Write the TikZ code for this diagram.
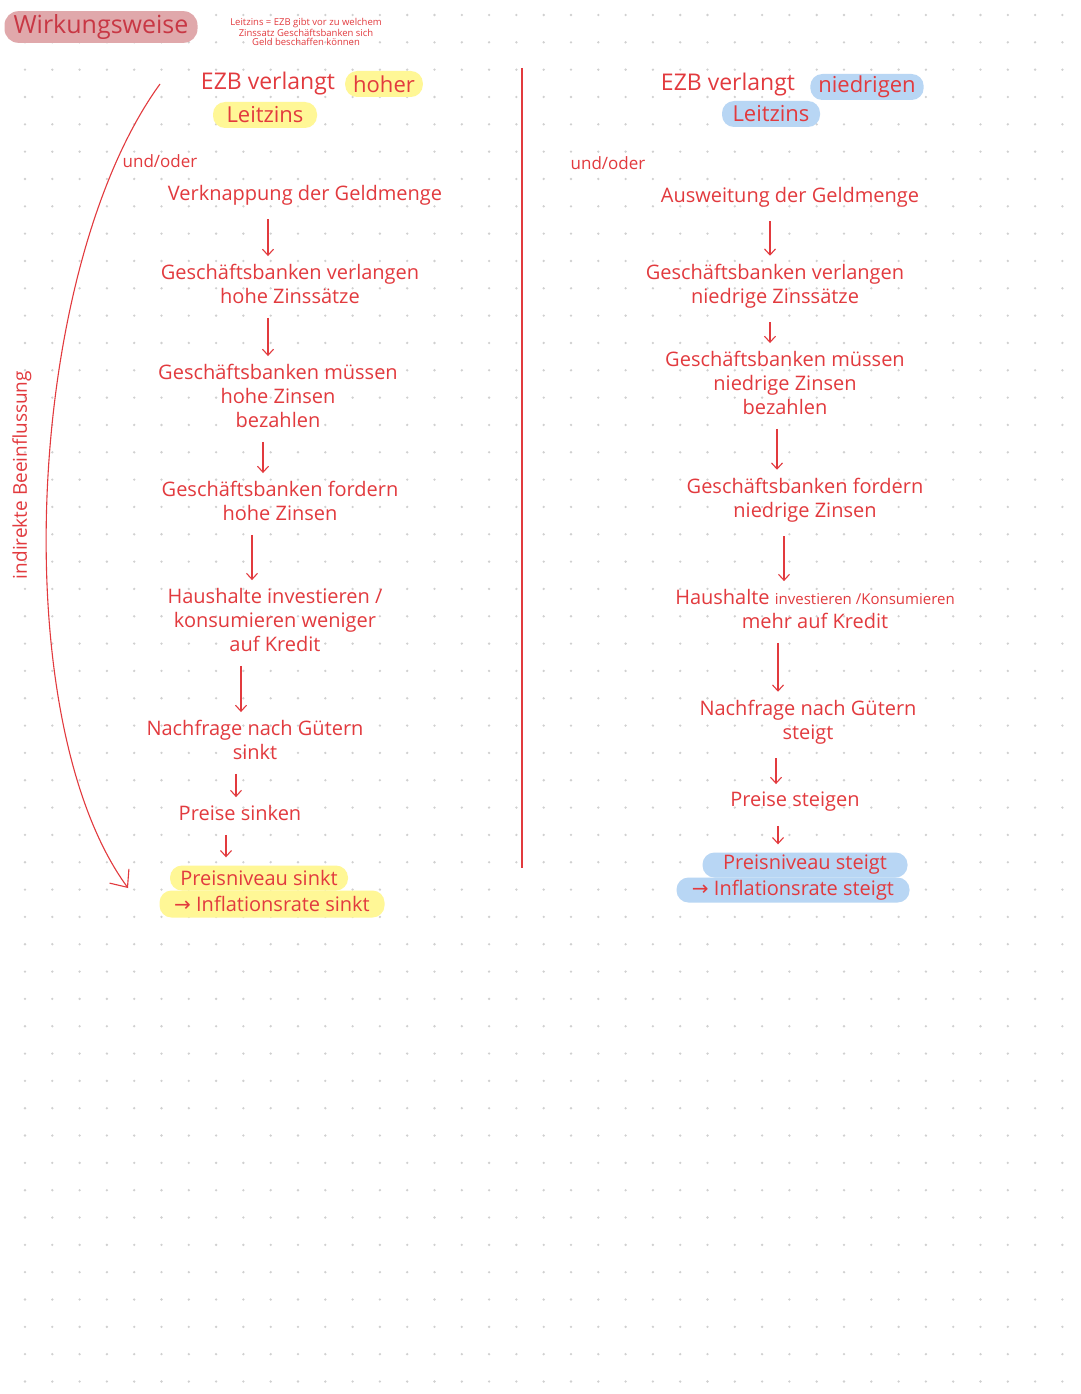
\documentclass[tikz,border=0pt]{standalone}
\usepackage{fontspec}
\setmainfont{Open Sans}
\newfontfamily\symfont{DejaVu Sans}
\usetikzlibrary{arrows.meta}
\definecolor{inkred}{RGB}{226,58,62}
\definecolor{titlered}{RGB}{200,55,68}
\definecolor{titlepink}{RGB}{224,168,171}
\definecolor{markyellow}{RGB}{255,247,150}
\definecolor{markblue}{RGB}{184,214,244}
\definecolor{dotgray}{RGB}{208,208,208}

\begin{document}
\begin{tikzpicture}[
  x=1pt, y=-1pt,
  font=\fontsize{20}{24}\selectfont,
  >={Straight Barb[length=6pt,width=11pt]},
  txt/.style={text=inkred, align=center, inner sep=0pt},
  small/.style={txt, font=\fontsize{17}{22}\selectfont},
  big/.style={txt, font=\fontsize{23}{27}\selectfont},
  mark/.style={
    txt,
    fill=#1,
    rounded corners=12pt,
    minimum height=26pt,
    inner xsep=8pt
  },
  flow/.style={->, draw=inkred, line width=1.1pt, shorten <=14pt, shorten >=8pt}
]

\useasboundingbox (0,0) rectangle (1080,1394);
\fill[white] (0,0) rectangle (1080,1394);

% dotted paper
\foreach \i in {0,...,38}
  \foreach \j in {0,...,50}
    \fill[dotgray] (25+27.3*\i, 15+27.33*\j) circle (1.3pt);

% header
\node[fill=titlepink, rounded corners=14pt, minimum width=193pt, minimum height=29pt,
  text=titlered, font=\fontsize{25}{28}\selectfont] (title) at (101,27) {Wirkungsweise};
\node[txt, font=\fontsize{9.5}{9}\selectfont] (note) at (306,32)
  {Leitzins = EZB gibt vor zu welchem\\Zinssatz Geschäftsbanken sich\\Geld beschaffen können};

% left: high key rate
\node[big] (ezbL) at (268,84) {EZB verlangt};
\node[mark=markyellow, minimum width=77pt, font=\fontsize{22}{26}\selectfont] (hoher) at (384,84) {hoher};
\node[mark=markyellow, minimum width=104pt, font=\fontsize{22}{26}\selectfont] (zinsL) at (265,115) {Leitzins};
\node[small] (undL) at (160,161) {und/oder};

\node[txt] (l1) at (305,195) {Verknappung der Geldmenge};
\node[txt] (l2) at (290,284) {Geschäftsbanken verlangen\\hohe Zinssätze};
\node[txt] (l3) at (278,396) {Geschäftsbanken müssen\\hohe Zinsen\\bezahlen};
\node[txt] (l4) at (280,501) {Geschäftsbanken fordern\\hohe Zinsen};
\node[txt] (l5) at (275,620) {Haushalte investieren /\\konsumieren weniger\\auf Kredit};
\node[txt] (l6) at (255,740) {Nachfrage nach Gütern\\sinkt};
\node[txt] (l7) at (240,813) {Preise sinken};
\node[mark=markyellow, minimum width=178pt, minimum height=25pt] (l8) at (259,878) {Preisniveau sinkt};
\node[mark=markyellow, minimum width=225pt, minimum height=27pt] (l9) at (272,904) {{\symfont →} Inflationsrate sinkt};

\draw[flow] ([xshift=-37pt]l1.south) -- ([xshift=-37pt]l1.south |- l2.north);
\draw[flow] ([xshift=-22pt]l2.south) -- ([xshift=-22pt]l2.south |- l3.north);
\draw[flow] ([xshift=-15pt]l3.south) -- ([xshift=-15pt]l3.south |- l4.north);
\draw[flow] ([xshift=-28pt]l4.south) -- ([xshift=-28pt]l4.south |- l5.north);
\draw[flow] ([xshift=-34pt]l5.south) -- ([xshift=-34pt]l5.south |- l6.north);
\draw[flow] ([xshift=-19pt]l6.south) -- ([xshift=-19pt]l6.south |- l7.north);
\draw[flow] ([xshift=-14pt]l7.south) -- ([xshift=-14pt]l7.south |- l8.north);

% indirect influence
\coordinate (bogenA) at (160,84);
\coordinate (bogenB) at (128,888);
\draw[inkred, line width=1.1pt, -{Straight Barb[length=14pt,width=24pt]}]
  (bogenA) .. controls (25,270) and (5,720) .. (bogenB);
\node[small, rotate=90, font=\fontsize{19}{22}\selectfont] (indirekt) at (22,475) {indirekte Beeinflussung};

% divider
\draw[inkred, line width=1.1pt] (522,68) -- (522,868);

% right: low key rate
\node[big] (ezbR) at (728,85) {EZB verlangt};
\node[mark=markblue, minimum width=105pt, font=\fontsize{22}{26}\selectfont] (niedrig) at (867,87) {niedrigen};
\node[mark=markblue, minimum width=98pt, font=\fontsize{22}{26}\selectfont] (zinsR) at (771,114) {Leitzins};
\node[small] (undR) at (608,163) {und/oder};

\node[txt] (r1) at (790,197) {Ausweitung der Geldmenge};
\node[txt] (r2) at (775,286) {Geschäftsbanken verlangen\\niedrige Zinssätze};
\node[txt] (r3) at (785,383) {Geschäftsbanken müssen\\niedrige Zinsen\\bezahlen};
\node[txt] (r4) at (805,500) {Geschäftsbanken fordern\\niedrige Zinsen};
\node[txt] (r5) at (815,609) {Haushalte {\fontsize{15}{24}\selectfont investieren /Konsumieren}\\mehr auf Kredit};
\node[txt] (r6) at (808,722) {Nachfrage nach Gütern\\steigt};
\node[txt] (r7) at (795,802) {Preise steigen};
\node[mark=markblue, minimum width=205pt, minimum height=25pt] (r8) at (805,865) {Preisniveau steigt};
\node[mark=markblue, minimum width=233pt, minimum height=25pt] (r9) at (793,890) {{\symfont →} Inflationsrate steigt};

\draw[flow] ([xshift=-20pt]r1.south) -- ([xshift=-20pt]r1.south |- r2.north);
\draw[flow] ([xshift=-5pt]r2.south) -- ([xshift=-5pt]r2.south |- r3.north);
\draw[flow] ([xshift=-8pt]r3.south) -- ([xshift=-8pt]r3.south |- r4.north);
\draw[flow] ([xshift=-21pt]r4.south) -- ([xshift=-21pt]r4.south |- r5.north);
\draw[flow] ([xshift=-37pt]r5.south) -- ([xshift=-37pt]r5.south |- r6.north);
\draw[flow] ([xshift=-32pt]r6.south) -- ([xshift=-32pt]r6.south |- r7.north);
\draw[flow] ([xshift=-17pt]r7.south) -- ([xshift=-17pt]r7.south |- r8.north);

\end{tikzpicture}
\end{document}
